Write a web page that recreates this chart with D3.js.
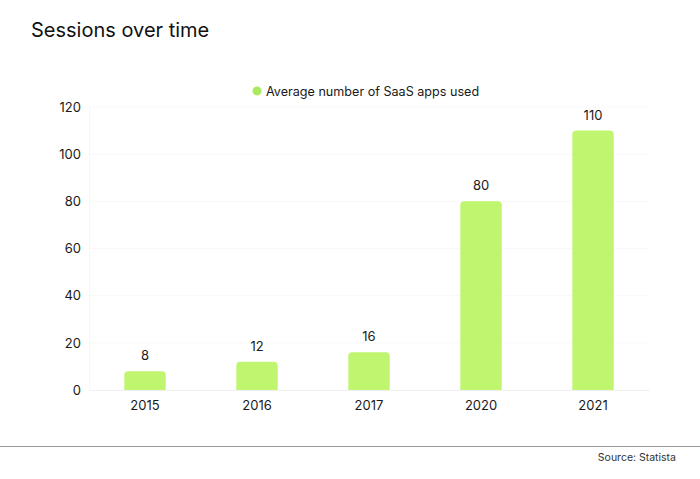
<!DOCTYPE html>
<html><head><meta charset="utf-8">
<script src="https://cdn.jsdelivr.net/npm/d3@7"></script>
<style>body{margin:0;background:#fff;}svg{display:block;font-family:Inter,"Noto Sans",sans-serif;}</style>
</head><body>
<svg id="c" width="700" height="479"></svg>
<script>
const categories = ["2015","2016","2017","2020","2021"];
const values = [8,12,16,80,110];
const yTicks = [0,20,40,60,80,100,120];
const seriesName = "Average number of SaaS apps used";
const barColor = "#bff56f";

const svg = d3.select("#c");
svg.append("rect").attr("width",700).attr("height",479).attr("fill","#fff");

const x = d3.scaleBand().domain(categories).range([89,649]).paddingInner(0.63).paddingOuter(0.315);
const y = d3.scaleLinear().domain([0,120]).range([390,107]);

// gridlines
svg.append("g").selectAll("line").data(yTicks.filter(d=>d>0)).join("line")
  .attr("x1",89).attr("x2",649).attr("y1",d=>y(d)).attr("y2",d=>y(d))
  .attr("stroke","#f8f8f8").attr("stroke-width",1);
svg.append("line").attr("x1",89.5).attr("x2",89.5).attr("y1",y(120)).attr("y2",y(0))
  .attr("stroke","#f6f6f6");

// y axis
const yAxis = svg.append("g").attr("transform","translate(81,0)")
  .call(d3.axisLeft(y).tickValues(yTicks).tickSize(0).tickPadding(0));
yAxis.select(".domain").remove();
yAxis.selectAll("text").attr("font-size",13).attr("fill","#1a1a1a").attr("font-family","Inter, sans-serif");

// x axis
const xAxis = svg.append("g").attr("transform","translate(0,390)")
  .call(d3.axisBottom(x).tickSize(0).tickPadding(11));
xAxis.select(".domain").attr("stroke","#f0f0f0");
xAxis.selectAll("text").attr("font-size",13).attr("fill","#1a1a1a").attr("font-family","Inter, sans-serif");

// bars with rounded top
const r = 4;
svg.append("g").selectAll("path").data(categories).join("path")
  .attr("fill",barColor)
  .attr("d",(c,i)=>{
    const x0 = x(c), w = x.bandwidth(), yt = y(values[i]), yb = y(0);
    return `M${x0},${yb}V${yt+r}Q${x0},${yt} ${x0+r},${yt}H${x0+w-r}Q${x0+w},${yt} ${x0+w},${yt+r}V${yb}Z`;
  });

// value labels
svg.append("g").selectAll("text").data(categories).join("text")
  .attr("x",c=>x(c)+x.bandwidth()/2)
  .attr("y",(c,i)=>y(values[i])-11)
  .attr("text-anchor","middle").attr("font-size",13).attr("fill","#1a1a1a")
  .text((c,i)=>values[i]);

// title
svg.append("text").attr("x",31).attr("y",37).attr("font-size",20).attr("fill","#111").text("Sessions over time");

// legend
svg.append("circle").attr("cx",257).attr("cy",91).attr("r",4.5).attr("fill","#a9ea5e");
svg.append("text").attr("x",266).attr("y",95.5).attr("font-size",12.6).attr("fill","#1a1a1a").text(seriesName);

// footer
svg.append("line").attr("x1",0).attr("x2",700).attr("y1",446.5).attr("y2",446.5).attr("stroke","#9a9a9a").attr("stroke-width",1.2);
svg.append("text").attr("x",676).attr("y",461).attr("text-anchor","end").attr("font-size",10.5).attr("fill","#333").text("Source: Statista");
</script>
</body></html>
